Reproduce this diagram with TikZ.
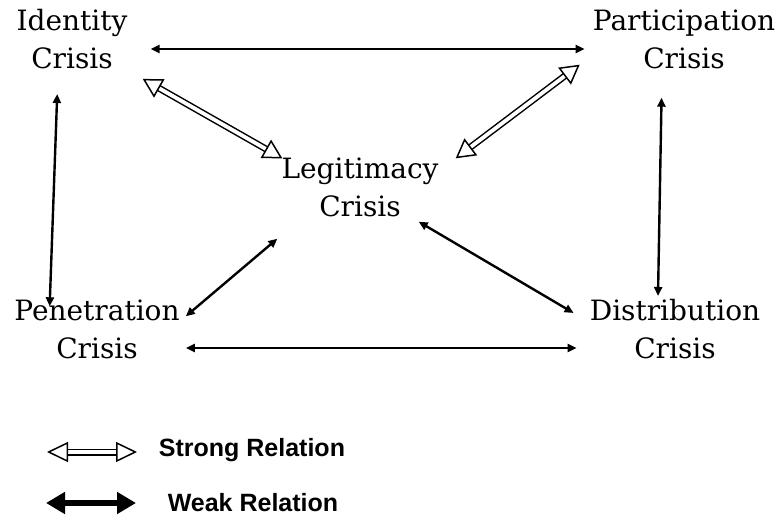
\documentclass[tikz,border=0pt]{standalone}
\usepackage{fontspec}
\setmainfont{DejaVu Serif}
\newfontfamily\legendfont{Liberation Sans}
\usetikzlibrary{arrows.meta}
\begin{document}
\begin{tikzpicture}[x=1pt,y=-1pt,
    crisis/.style={align=center,inner sep=3pt,font=\fontsize{28}{38}\selectfont},
    weak/.style={line width=2.4pt,{Triangle[length=9pt,width=8pt]}-{Triangle[length=9pt,width=8pt]}},
    strong/.style={line width=1.5pt,double distance=3.8pt,
      {Triangle[open,fill=white,length=19pt,width=21pt]}-{Triangle[open,fill=white,length=19pt,width=21pt]}},
    legend/.style={font=\legendfont\bfseries\fontsize{25}{30}\selectfont,inner sep=0pt}]
  \useasboundingbox (0,0) rectangle (784,520);
  \node[crisis] (identity) at (72,39) {Identity\\Crisis};
  \node[crisis] (participation) at (684,39) {Participation\\Crisis};
  \node[crisis] (legitimacy) at (360,187) {Legitimacy\\Crisis};
  \node[crisis] (penetration) at (97,329) {Penetration\\Crisis};
  \node[crisis] (distribution) at (675,329) {Distribution\\Crisis};
  % weak relations
  \draw[weak,shorten <=20pt,shorten >=5pt] ([shift={(0,10)}]identity.east) -- ([shift={(0,10)}]participation.west);
  \draw[weak,shorten <=3pt,shorten >=10pt] ([shift={(0,19)}]penetration.east) -- ([shift={(0,19)}]distribution.west);
  \draw[weak,shorten <=22pt,shorten >=-10pt] ([shift={(-14,0)}]identity.south) -- ([shift={(-47,0)}]penetration.north);
  \draw[weak,shorten <=26pt] ([shift={(-22,0)}]participation.south) -- ([shift={(-17,0)}]distribution.north);
  \draw[weak] ([shift={(-1,19)}]legitimacy.south west) -- ([shift={(3,20)}]penetration.north east);
  \draw[weak] ([shift={(-23,2)}]legitimacy.south east) -- ([shift={(-13,17)}]distribution.north west);
  % strong relations
  \draw[strong,shorten <=14pt] (identity.south east) -- ([shift={(4,4)}]legitimacy.north west);
  \draw[strong] ([shift={(-10,-7)}]participation.south west) -- ([shift={(14,4)}]legitimacy.north east);
  % legend
  \node[legend] (strongtxt) at (252,450) {Strong Relation};
  \node[legend] (weaktxt) at (253,503) {Weak Relation};
  \coordinate (s1) at (47,452);
  \coordinate (s2) at (137,452);
  \coordinate (w1) at (46,503);
  \coordinate (w2) at (136,503);
  \draw[line width=1.5pt,double distance=4pt,
    {Triangle[open,fill=white,length=21pt,width=20pt]}-{Triangle[open,fill=white,length=21pt,width=20pt]}] (s1) -- (s2);
  \draw[line width=6pt,{Triangle[length=19pt,width=21pt]}-{Triangle[length=19pt,width=21pt]}] (w1) -- (w2);
\end{tikzpicture}
\end{document}
